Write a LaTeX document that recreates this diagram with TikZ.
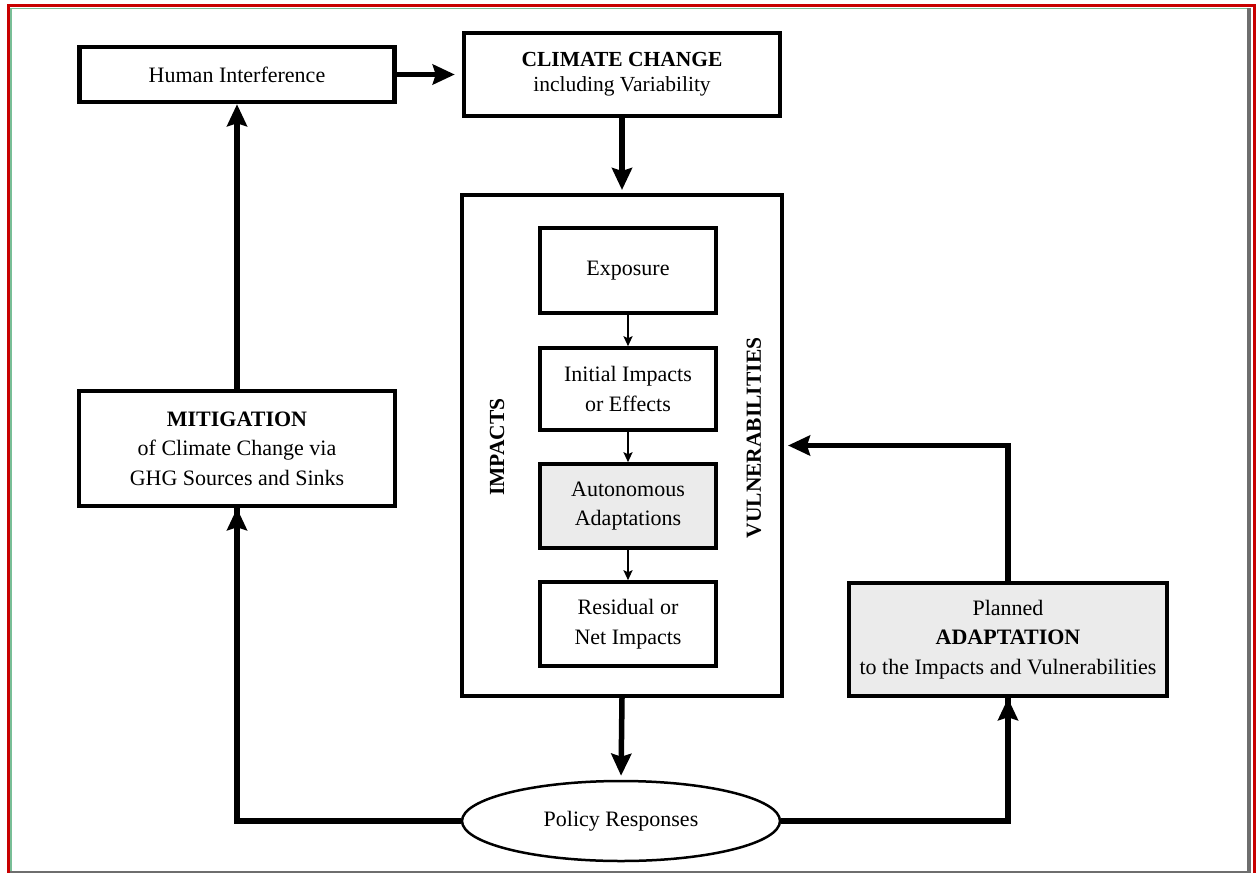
\documentclass[tikz,border=0pt]{standalone}
\usepackage{fontspec}
\setmainfont{Liberation Serif}
\usetikzlibrary{arrows.meta,shapes.geometric}
\definecolor{boxgray}{RGB}{235,235,235}
\definecolor{framered}{RGB}{200,0,0}
\definecolor{framegreen}{RGB}{120,190,150}
\definecolor{framegray}{RGB}{110,110,110}
\tikzset{
  txt/.style={font=\fontsize{22}{29.5}\selectfont, align=center},
  outerbox/.style={draw, line width=4.5pt, inner sep=0pt, txt},
  innerbox/.style={draw, line width=3.5pt, inner sep=0pt, txt, minimum width=176pt},
  sidelabel/.style={font=\fontsize{21.5}{24}\selectfont\bfseries, rotate=90},
  bigarrow/.style={line width=5.5pt, -{Stealth[length=22pt,width=20pt,inset=3pt]}},
  smallarrow/.style={line width=2.2pt, -{Stealth[length=10pt,width=9pt,inset=2pt]}},
  bigline/.style={line width=5.5pt},
}
\begin{document}
\begin{tikzpicture}[x=1pt,y=-1pt]
\useasboundingbox (0,0) rectangle (1256,873);
% frame
\draw[framegreen, line width=1.2pt] (11,876) -- (11,8.5) -- (1250,8.5);
\draw[framegray, line width=4pt] (1249,8) -- (1249,871.5);
\draw[framegray, line width=2pt] (10,871.5) -- (1251,871.5);
\draw[framered, line width=3.2pt] (8.5,880) -- (8.5,5.5) -- (1254.5,5.5) -- (1254.5,880);

% nodes
\node[outerbox, minimum width=315pt, minimum height=55pt] (human) at (237,74.5) {Human Interference};
\node[outerbox, minimum width=316pt, minimum height=83pt, font=\fontsize{21.5}{25}\selectfont] (climate) at (622,74.5) {\textbf{CLIMATE CHANGE}\\including Variability};
\node[draw, line width=4pt, minimum width=320pt, minimum height=501pt, inner sep=0pt] (big) at (622,445.5) {};
\node[innerbox, minimum height=85pt] (exp) at (628,270.5) {Exposure};
\node[innerbox, minimum height=82pt] (ini) at (628,389) {Initial Impacts\\or Effects};
\node[innerbox, minimum height=84pt, fill=boxgray] (auto) at (628,506) {Autonomous\\Adaptations};
\node[innerbox, minimum height=84pt] (res) at (628,624) {Residual or\\Net Impacts};
\node[sidelabel] (imp) at (497,447) {IMPACTS};
\node[sidelabel] (vul) at (754,438) {VULNERABILITIES};
\node[outerbox, minimum width=316pt, minimum height=115pt] (mit) at (237,448.5) {\textbf{MITIGATION}\\of Climate Change via\\GHG Sources and Sinks};
\node[outerbox, minimum width=318pt, minimum height=113pt, fill=boxgray] (adapt) at (1008,639.5) {Planned\\\textbf{ADAPTATION}\\to the Impacts and Vulnerabilities};
\node[draw, ellipse, line width=2.5pt, minimum width=318pt, minimum height=80pt, inner sep=0pt, txt] (policy) at (621,821) {Policy Responses};

% connectors
\draw[bigarrow, shorten >=7pt] (human.east) -- (climate.west);
\draw[bigarrow, shorten >=3pt] (climate.south) -- (big.north);
\draw[smallarrow] (exp.south) -- (ini.north);
\draw[smallarrow] (ini.south) -- (auto.north);
\draw[smallarrow] (auto.south) -- (res.north);
\draw[bigarrow, shorten >=4pt] (big.south) -- (policy.north);
\draw[bigline] (policy.west) -| (mit.south);
\draw[bigarrow] ([yshift=-14pt]mit.south) -- (mit.south);
\draw[bigline] (policy.east) -| (adapt.south);
\draw[bigarrow] ([yshift=-14pt]adapt.south) -- (adapt.south);
\draw[bigarrow] (mit.north) -- (human.south);
\draw[bigline] (adapt.north) |- ([xshift=30pt]big.east);
\draw[bigarrow, shorten >=4pt] ([xshift=30pt]big.east) -- (big.east);
\end{tikzpicture}
\end{document}
